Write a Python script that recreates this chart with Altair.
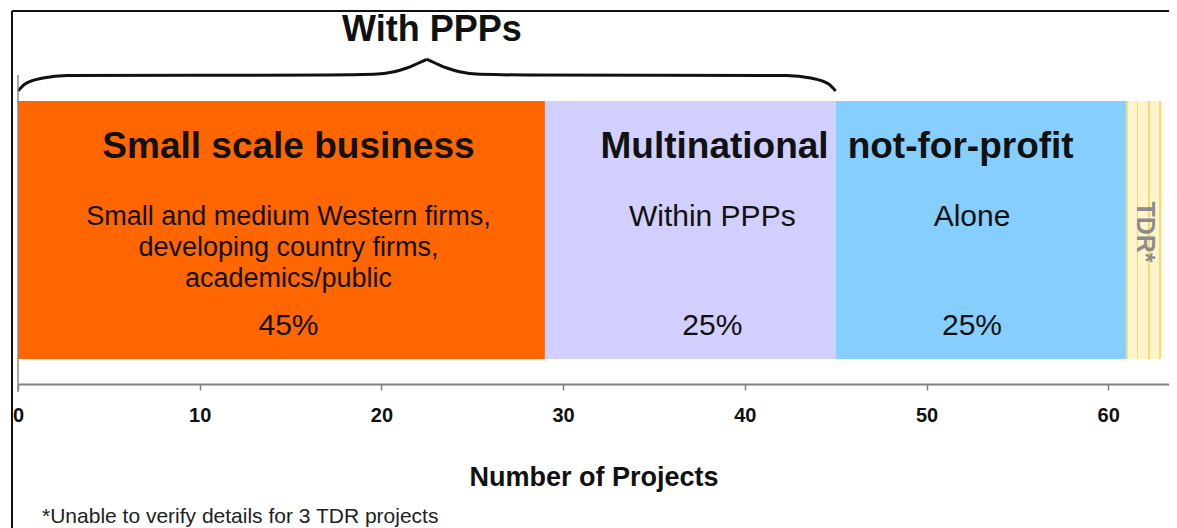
import altair as alt
import pandas as pd

# ---------------- data ----------------
categories = ["Small scale business", "Multinational within PPPs", "Multinational alone", "TDR"]
projects = [29, 16, 16, 2]
bar_colors = ["#FF6600", "#D1CFFD", "#86CEFD", "#FFF3C6"]
headers = ["Small scale business", "Multinational", "not-for-profit", "TDR*"]
descriptions = [
    "Small and medium Western firms,\ndeveloping country firms,\nacademics/public",
    "Within PPPs",
    "Alone",
    "",
]
shares = ["45%", "25%", "25%", ""]
tick_values = [0, 10, 20, 30, 40, 50, 60]
axis_title = "Number of Projects"
group_label = "With PPPs"
footnote = "*Unable to verify details for 3 TDR projects"

# brace outline: fraction along the bracketed span and pixel row (left half, mirrored)
brace_t = [0, 0.0086, 0.0306, 0.06, 0.378, 0.435, 0.46, 0.4755, 0.49, 0.5]
brace_y = [80, 73, 67, 64.5, 64, 63.3, 60.7, 57, 52, 48.3]

# ---------------- tables ----------------
ends = pd.Series(projects).cumsum()
df = pd.DataFrame({
    "category": categories,
    "projects": projects,
    "end": ends,
    "start": ends - pd.Series(projects),
    "header": headers,
    "desc": descriptions,
    "share": shares,
})
df["mid"] = (df["start"] + df["end"]) / 2

span_end = float(df.loc[1, "end"])  # brace covers small business + multinational within PPPs
left = pd.DataFrame({"t": brace_t, "py": brace_y, "half": "L"})
right = pd.DataFrame({"t": [1 - t for t in brace_t], "py": brace_y, "half": "R"})
brace = pd.concat([left, right], ignore_index=True)
brace["x"] = brace["t"] * span_end
brace_mid = pd.DataFrame({"x": [span_end / 2], "label": [group_label]})

W, H = 1151, 373
FONT = "Liberation Sans"
xscale = alt.Scale(domain=[0, W / 18.17], nice=False, zero=True)
xaxis = alt.Axis(values=tick_values, title=axis_title, grid=False,
                 domainColor="#808080", domainWidth=2,
                 tickColor="#808080", tickSize=6, tickWidth=1.5,
                 labelFont=FONT, labelFontSize=20, labelFontWeight="bold",
                 labelColor="#111", labelPadding=15, labelFlush=False,
                 titleFont=FONT, titleFontSize=27, titleFontWeight="bold",
                 titleColor="#111", titlePadding=39)


def X(field):
    return alt.X(f"{field}:Q", scale=xscale, axis=xaxis)


base = alt.Chart(df)

bars = base.transform_filter(alt.datum.category != "TDR").mark_bar(strokeWidth=0).encode(
    x=X("start"),
    x2="end:Q",
    y=alt.value(90), y2=alt.value(348),
    color=alt.Color("category:N", scale=alt.Scale(domain=categories, range=bar_colors), legend=None),
)

stripe = "#F6D978"
base_y = "#FFF4CC"
stops = []
for a, b in [(0.0, 0.05), (0.28, 0.33), (0.6, 0.65), (0.9, 0.95)]:
    stops += [alt.GradientStop(color=base_y, offset=a), alt.GradientStop(color=stripe, offset=a),
              alt.GradientStop(color=stripe, offset=b), alt.GradientStop(color=base_y, offset=b)]
tdr_bar = base.transform_filter(alt.datum.category == "TDR").mark_bar(
    color=alt.LinearGradient(gradient="linear", stops=stops, x1=0, x2=1, y1=0, y2=0),
    strokeWidth=0,
).encode(x=X("start"), x2="end:Q", y=alt.value(90), y2=alt.value(348))


def seg_text(idx, field, xfield, y, size, weight="normal", dx=0, align="center",
             color="#111", angle=0, line_height=None):
    kw = dict(font=FONT, fontSize=size, fontWeight=weight, dx=dx, align=align,
              baseline="middle", color=color, angle=angle)
    if line_height:
        kw.update(lineBreak="\n", lineHeight=line_height)
    return base.transform_filter(alt.datum.category == categories[idx]).mark_text(**kw).encode(
        x=X(xfield), y=alt.value(y), text=f"{field}:N")


texts = [
    seg_text(0, "header", "mid", 136, 37, "bold", dx=7),
    seg_text(1, "header", "end", 136, 37, "bold", dx=-7, align="right"),
    seg_text(2, "header", "start", 136, 37, "bold", dx=12, align="left"),
    seg_text(0, "desc", "mid", 206, 27, dx=7, line_height=31),
    seg_text(1, "desc", "mid", 206, 30, dx=22),
    seg_text(2, "desc", "mid", 206, 30, dx=-9),
    seg_text(0, "share", "mid", 315, 30, dx=7),
    seg_text(1, "share", "mid", 315, 30, dx=22),
    seg_text(2, "share", "mid", 315, 30, dx=-9),
    seg_text(3, "header", "mid", 221, 25, "bold", color="#8c8c8c", angle=90),
]

brace_line = alt.Chart(brace).mark_line(color="#111", strokeWidth=3, interpolate="monotone").encode(
    x=X("x"), y=alt.Y("py:Q", scale=None, axis=None), detail="half:N", order="x:Q")

group_text = alt.Chart(brace_mid).mark_text(
    font=FONT, fontSize=36, fontWeight="bold", color="#111", baseline="middle", dx=5
).encode(x=X("x"), y=alt.value(19), text="label:N")

one = pd.DataFrame({"a": [0]})
y_line = alt.Chart(one).mark_rule(color="#8a8a8a", strokeWidth=1.5).encode(
    x=alt.value(0), y=alt.value(64), y2=alt.value(381))
frame_top = alt.Chart(one).mark_rule(color="#111", strokeWidth=2).encode(
    x=alt.value(-6), x2=alt.value(W + 20), y=alt.value(0))
frame_left = alt.Chart(one).mark_rule(color="#111", strokeWidth=2).encode(
    x=alt.value(-6), y=alt.value(0), y2=alt.value(520))
note = alt.Chart(pd.DataFrame({"t": [footnote]})).mark_text(
    font=FONT, fontSize=21, color="#222", align="left", baseline="middle"
).encode(x=alt.value(24), y=alt.value(506), text="t:N")

chart = alt.layer(
    bars, tdr_bar, *texts, brace_line, group_text, y_line, frame_top, frame_left, note
).properties(
    width=W, height=H,
    autosize=alt.AutoSizeParams(type="none"),
    padding={"left": 10, "top": 3, "right": 0, "bottom": 144},
).configure_view(stroke=None)

chart.save("out.html", embed_options={"renderer": "svg", "actions": False})
